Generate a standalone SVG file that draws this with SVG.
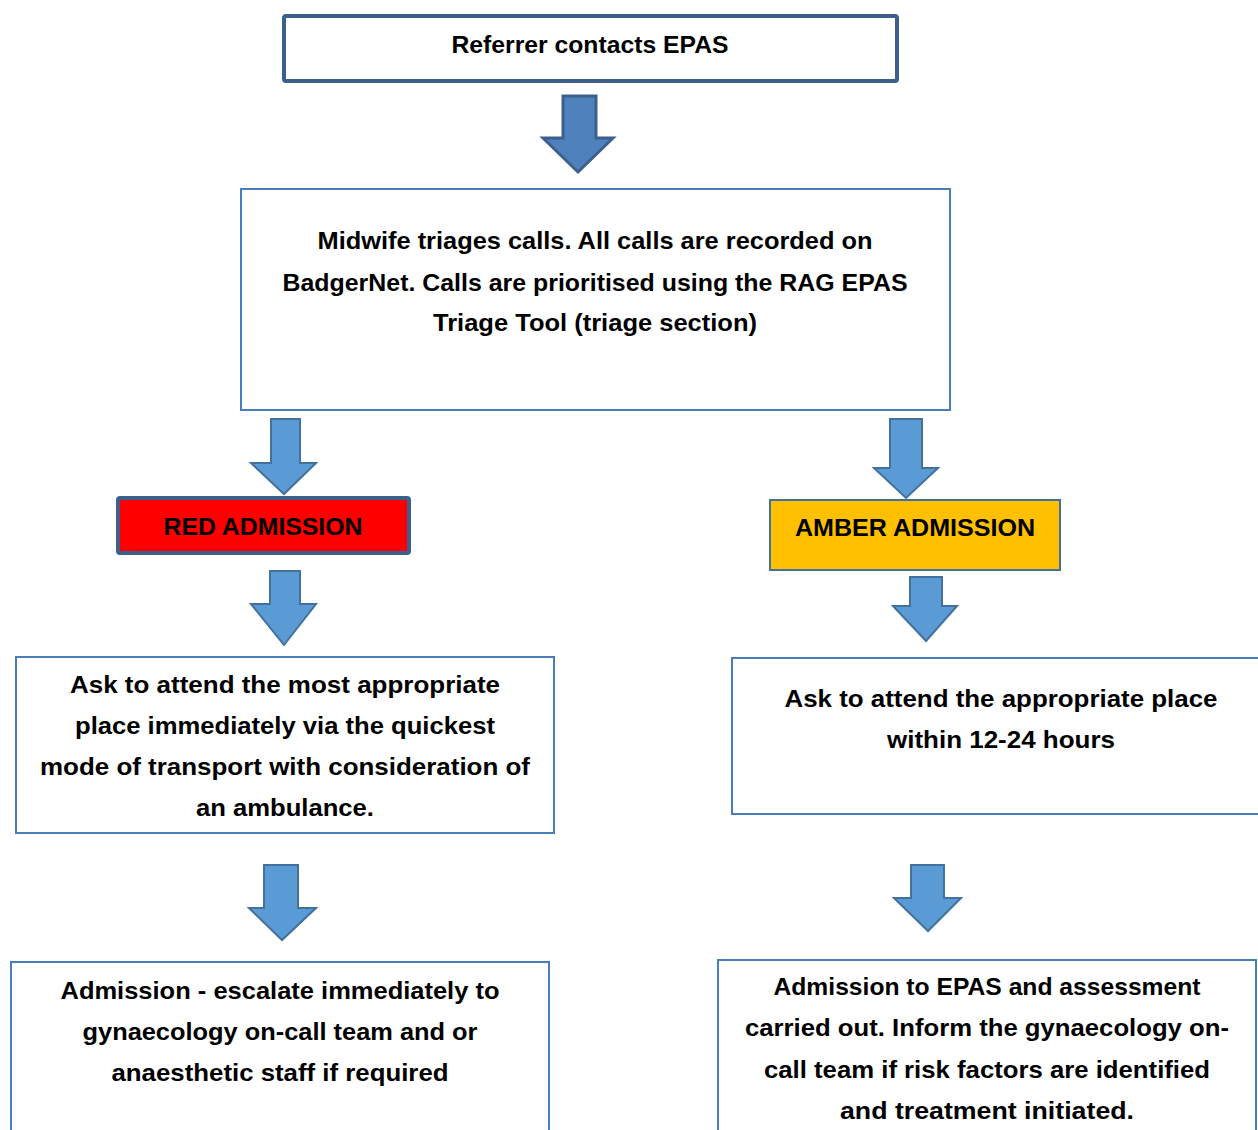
<svg xmlns="http://www.w3.org/2000/svg" width="1258" height="1130" viewBox="0 0 1258 1130">
<style>
.t{font-family:"Liberation Sans",Arial,sans-serif;font-weight:bold;font-size:24px;fill:#000;text-anchor:middle}
.box{fill:#fff;stroke:#4A7EBB;stroke-width:2}
.arr{fill:#5B9BD5;stroke:#41719C;stroke-width:2;stroke-linejoin:miter}
</style>
<rect width="1258" height="1130" fill="#fff"/>
<g id="connectors">
<path class="arr" d="M563,96 H596 V138 H613 L578,172 L543,138 H563 Z" style="fill:#4F81BD;stroke:#3C5F8C;stroke-width:3"/>
<path class="arr" d="M271,419 H300 V463 H316 L284,494 L251,463 H271 Z"/>
<path class="arr" d="M890,419 H922 V468 H938 L906,498 L874,468 H890 Z"/>
<path class="arr" d="M270,571 H300 V604 H316 L284,645 L251,604 H270 Z"/>
<path class="arr" d="M910,577 H942 V606 H957 L926,641 L893,606 H910 Z"/>
<path class="arr" d="M264,865 H298 V908 H316 L282,940 L249,908 H264 Z"/>
<path class="arr" d="M911,865 H944 V898 H961 L928,931 L894,898 H911 Z"/>
</g>
<g id="n1">
<rect x="284" y="16" width="613" height="65" rx="2" fill="#fff" stroke="#3C5F8C" stroke-width="4"/>
<text class="t" x="590" y="53" textLength="277" lengthAdjust="spacingAndGlyphs">Referrer contacts EPAS</text>
</g>
<g id="n2">
<rect class="box" x="241" y="189" width="709" height="221"/>
<text class="t" x="595" y="249" textLength="555" lengthAdjust="spacingAndGlyphs">Midwife triages calls. All calls are recorded on</text>
<text class="t" x="595" y="291" textLength="625" lengthAdjust="spacingAndGlyphs">BadgerNet. Calls are prioritised using the RAG EPAS</text>
<text class="t" x="595" y="331" textLength="324" lengthAdjust="spacingAndGlyphs">Triage Tool (triage section)</text>
</g>
<g id="n3">
<rect x="118" y="498" width="291" height="55" rx="2" fill="#FF0000" stroke="#3C5F8C" stroke-width="4"/>
<text class="t" x="263" y="535" textLength="199" lengthAdjust="spacingAndGlyphs">RED ADMISSION</text>
</g>
<g id="n4">
<rect x="770" y="500" width="290" height="70" fill="#FFC000" stroke="#41719C" stroke-width="2"/>
<text class="t" x="915" y="536" textLength="240" lengthAdjust="spacingAndGlyphs">AMBER ADMISSION</text>
</g>
<g id="n5">
<rect class="box" x="16" y="657" width="538" height="176"/>
<text class="t" x="285" y="693" textLength="430" lengthAdjust="spacingAndGlyphs">Ask to attend the most appropriate</text>
<text class="t" x="285" y="734" textLength="420" lengthAdjust="spacingAndGlyphs">place immediately via the quickest</text>
<text class="t" x="285" y="775" textLength="490" lengthAdjust="spacingAndGlyphs">mode of transport with consideration of</text>
<text class="t" x="285" y="816" textLength="178" lengthAdjust="spacingAndGlyphs">an ambulance.</text>
</g>
<g id="n6">
<rect class="box" x="732" y="658" width="540" height="156"/>
<text class="t" x="1001" y="707" textLength="433" lengthAdjust="spacingAndGlyphs">Ask to attend the appropriate place</text>
<text class="t" x="1001" y="748" textLength="228" lengthAdjust="spacingAndGlyphs">within 12-24 hours</text>
</g>
<g id="n7">
<rect class="box" x="11" y="962" width="538" height="190"/>
<text class="t" x="280" y="999" textLength="439" lengthAdjust="spacingAndGlyphs">Admission - escalate immediately to</text>
<text class="t" x="280" y="1040" textLength="395" lengthAdjust="spacingAndGlyphs">gynaecology on-call team and or</text>
<text class="t" x="280" y="1081" textLength="337" lengthAdjust="spacingAndGlyphs">anaesthetic staff if required</text>
</g>
<g id="n8">
<rect class="box" x="718" y="960" width="538" height="190"/>
<text class="t" x="987" y="995" textLength="427" lengthAdjust="spacingAndGlyphs">Admission to EPAS and assessment</text>
<text class="t" x="987" y="1036" textLength="484" lengthAdjust="spacingAndGlyphs">carried out. Inform the gynaecology on-</text>
<text class="t" x="987" y="1078" textLength="446" lengthAdjust="spacingAndGlyphs">call team if risk factors are identified</text>
<text class="t" x="987" y="1119" textLength="294" lengthAdjust="spacingAndGlyphs">and treatment initiated.</text>
</g>
</svg>
